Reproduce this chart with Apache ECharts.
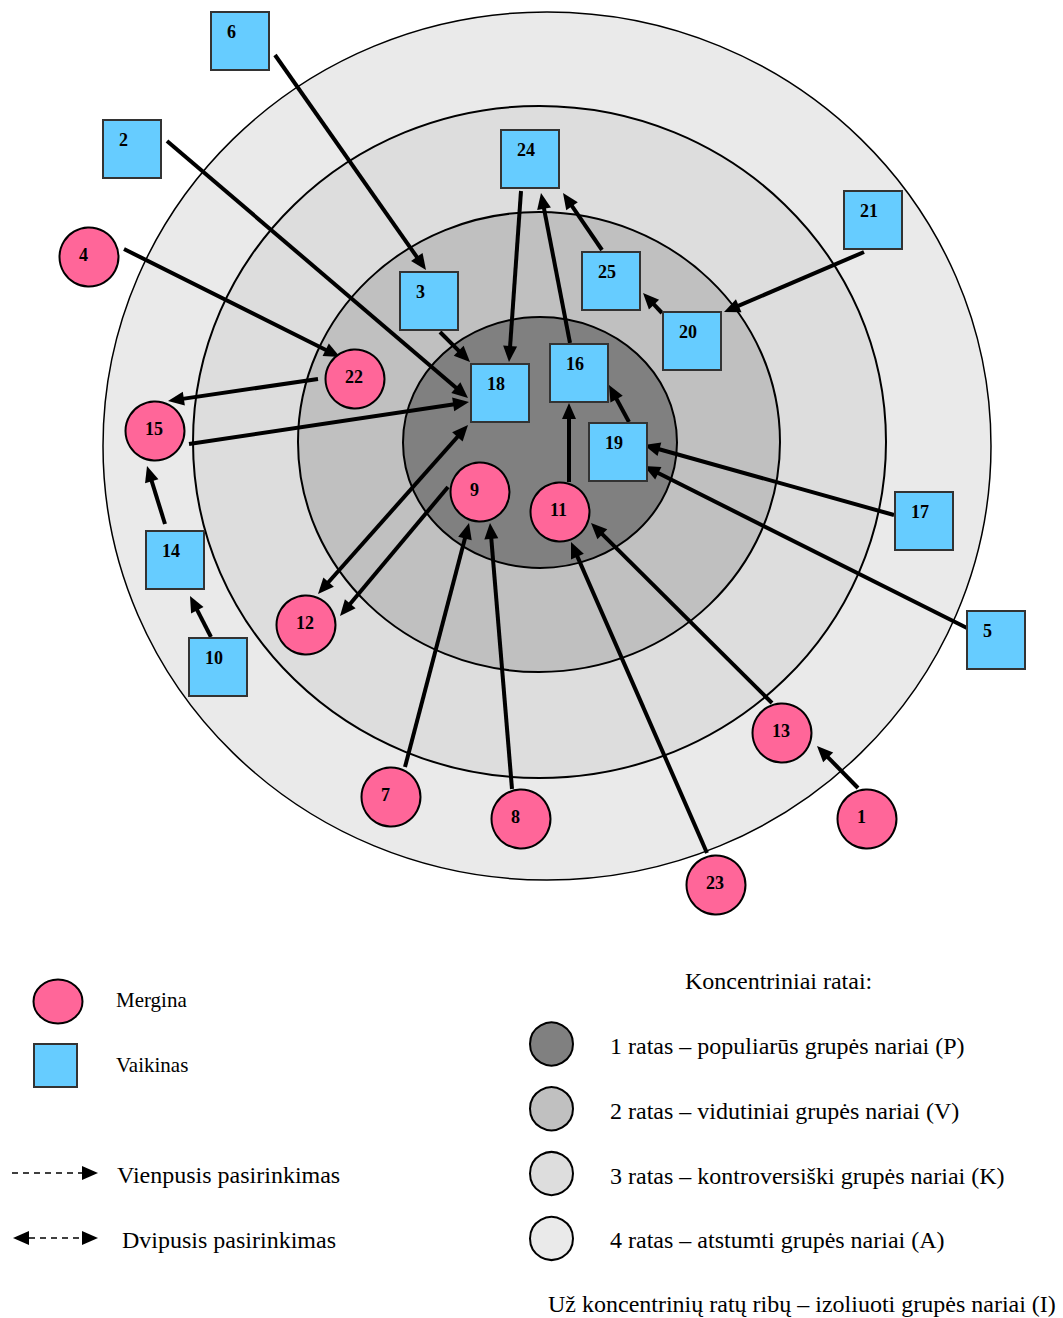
<!DOCTYPE html>
<html>
<head>
<meta charset="utf-8">
<script src="https://cdn.jsdelivr.net/npm/echarts@6/dist/echarts.min.js"></script>
<style>
  html, body { margin: 0; padding: 0; background: #fff; }
  #chart { width: 1063px; height: 1318px; }
</style>
</head>
<body>
<div id="chart"></div>
<script>
// koncentriniai ratai (nuo vidinio iki išorinio), koordinatės paveikslo vienetais
const ringLabels = [
  '1 ratas – populiarūs grupės nariai (P)',
  '2 ratas – vidutiniai grupės nariai (V)',
  '3 ratas – kontroversiški grupės nariai (K)',
  '4 ratas – atstumti grupės nariai (A)'
];
const ringCx = [540, 539, 539.5, 547];
const ringCy = [442.5, 442, 442, 446];
const ringRx = [137, 241, 346.5, 444];
const ringRy = [125.5, 230, 336, 434];

// merginos
const girlIds = [1, 4, 7, 8, 9, 11, 12, 13, 15, 22, 23];
const girlX = [867, 89, 391, 521, 480, 560, 306, 782, 155, 355, 716];
const girlY = [819, 257, 797, 819, 492, 512, 625, 733, 431, 379, 885];

// vaikinai
const boyIds = [2, 3, 5, 6, 10, 14, 16, 17, 18, 19, 20, 21, 24, 25];
const boyX = [132, 429, 996, 240, 218, 175, 579, 924, 500, 618, 692, 873, 530, 611];
const boyY = [149, 301, 640, 41, 667, 560, 373, 521, 393, 452, 341, 220, 159, 281];

// pasirinkimai: pradžia -> smaigalys, both = dvipusis
const edgeNames = ['6-3', '2-18', '4-22', '22-15', '15-18', '3-18', '24-18', '16-24', '25-24', '20-25',
  '21-20', '19-16', '11-16', '17-19', '5-19', '12-18', '9-12', '7-9', '8-9', '23-11', '13-11', '1-13',
  '14-15', '10-14'];
const edgeX1 = [275, 167, 124, 318, 189, 440, 521, 570, 602, 662, 864, 629, 569, 894, 967, 318, 448, 405, 512, 707, 772, 858, 165, 211];
const edgeY1 = [55, 141, 249, 379, 444, 332, 191, 343, 250, 313, 252, 422, 482, 515, 628, 594, 487, 767, 789, 853, 703, 788, 524, 637];
const edgeX2 = [426, 468, 340, 168, 469, 470, 509, 541, 563, 643, 724, 609, 569, 644, 644, 468, 340, 469, 490, 571, 591, 817, 147, 190];
const edgeY2 = [270, 398, 357, 401, 402, 362, 362, 193, 193, 293, 312, 385, 403, 445, 466, 425, 616, 523, 523, 542, 523, 746, 466, 596];
const edgeBoth = [0, 0, 0, 0, 0, 0, 0, 0, 0, 0, 0, 0, 0, 0, 0, 1, 0, 0, 0, 0, 0, 0, 0, 0];

const ringColors = ['#808080', '#c0c0c0', '#dddddd', '#eaeaea'];
const girlColor = '#ff6699';
const boyColor = '#66ccff';
const serif = "'Liberation Serif', 'Times New Roman', serif";
const HEAD_LEN = 16;
const HEAD_W = 7;

const chart = echarts.init(document.getElementById('chart'), null, { renderer: 'svg' });

const ringData = ringCx.map((cx, i) => [cx, ringCy[i], ringRx[i], ringRy[i], i]).reverse();
const edgeData = edgeNames.map((n, i) => [edgeX1[i], edgeY1[i], edgeX2[i], edgeY2[i], edgeBoth[i]]);

function arrowHead(tip, ux, uy) {
  const bx = tip[0] - ux * HEAD_LEN;
  const by = tip[1] - uy * HEAD_LEN;
  return {
    type: 'polygon',
    shape: { points: [tip, [bx - uy * HEAD_W, by + ux * HEAD_W], [bx + uy * HEAD_W, by - ux * HEAD_W]] },
    style: { fill: '#000' }
  };
}

// legenda apačioje
const legend = [];
legend.push({ type: 'ellipse', shape: { cx: 58, cy: 1001.5, rx: 24.5, ry: 22 }, style: { fill: girlColor, stroke: '#000', lineWidth: 2 } });
legend.push({ type: 'rect', shape: { x: 34, y: 1044, width: 43, height: 43 }, style: { fill: boyColor, stroke: '#333', lineWidth: 2 } });
legend.push({ type: 'text', x: 116, y: 1000, style: { text: 'Mergina', font: '21px ' + serif, fill: '#000', verticalAlign: 'middle' } });
legend.push({ type: 'text', x: 116, y: 1065, style: { text: 'Vaikinas', font: '21px ' + serif, fill: '#000', verticalAlign: 'middle' } });
legend.push({ type: 'line', shape: { x1: 12, y1: 1173, x2: 83, y2: 1173 }, style: { stroke: '#000', lineWidth: 1.5, lineDash: [6, 5] } });
legend.push({ type: 'polygon', shape: { points: [[98, 1173], [82, 1166], [82, 1180]] }, style: { fill: '#000' } });
legend.push({ type: 'line', shape: { x1: 29, y1: 1238, x2: 83, y2: 1238 }, style: { stroke: '#000', lineWidth: 1.5, lineDash: [6, 5] } });
legend.push({ type: 'polygon', shape: { points: [[13, 1238], [29, 1231], [29, 1245]] }, style: { fill: '#000' } });
legend.push({ type: 'polygon', shape: { points: [[98, 1238], [82, 1231], [82, 1245]] }, style: { fill: '#000' } });
legend.push({ type: 'text', x: 117, y: 1175, style: { text: 'Vienpusis pasirinkimas', font: '24px ' + serif, fill: '#000', verticalAlign: 'middle' } });
legend.push({ type: 'text', x: 122, y: 1240, style: { text: 'Dvipusis pasirinkimas', font: '24px ' + serif, fill: '#000', verticalAlign: 'middle' } });
legend.push({ type: 'text', x: 685, y: 981, style: { text: 'Koncentriniai ratai:', font: '24px ' + serif, fill: '#000', verticalAlign: 'middle' } });
ringLabels.forEach((lbl, i) => {
  legend.push({ type: 'circle', shape: { cx: 551.5, cy: 1044 + 64.8 * i, r: 21.5 }, style: { fill: ringColors[i], stroke: '#000', lineWidth: 2 } });
  legend.push({ type: 'text', x: 610, y: 1046 + 64.8 * i, style: { text: lbl, font: '24px ' + serif, fill: '#000', verticalAlign: 'middle' } });
});
legend.push({ type: 'text', x: 548, y: 1304, style: { text: 'Už koncentrinių ratų ribų – izoliuoti grupės nariai (I)', font: '24px ' + serif, fill: '#000', verticalAlign: 'middle' } });

const nodeLabel = {
  show: true,
  color: '#000',
  fontFamily: serif,
  fontWeight: 'bold',
  fontSize: 18,
  align: 'left',
  verticalAlign: 'middle',
  formatter: p => String(p.value[2])
};

chart.setOption({
  animation: false,
  grid: { left: 0, right: 0, top: 0, bottom: 0 },
  xAxis: { type: 'value', min: 0, max: 1063, show: false },
  yAxis: { type: 'value', min: 0, max: 1318, inverse: true, show: false },
  graphic: legend,
  series: [
    {
      // ratai
      type: 'custom',
      name: 'Koncentriniai ratai',
      clip: false,
      silent: true,
      z: 1,
      encode: { x: 0, y: 1 },
      data: ringData,
      renderItem(params, api) {
        const c = api.coord([api.value(0), api.value(1)]);
        const s = api.size([api.value(2) * 2, api.value(3) * 2], [api.value(0), api.value(1)]);
        const idx = api.value(4);
        return {
          type: 'ellipse',
          shape: { cx: c[0], cy: c[1], rx: s[0] / 2, ry: s[1] / 2 },
          style: { fill: ringColors[idx], stroke: '#000', lineWidth: idx === 3 ? 1.5 : 2 }
        };
      }
    },
    {
      // pasirinkimų rodyklės
      type: 'custom',
      name: 'Pasirinkimai',
      clip: false,
      silent: true,
      z: 2,
      encode: { x: [0, 2], y: [1, 3] },
      data: edgeData,
      renderItem(params, api) {
        const a = api.coord([api.value(0), api.value(1)]);
        const b = api.coord([api.value(2), api.value(3)]);
        const both = api.value(4) === 1;
        const dx = b[0] - a[0], dy = b[1] - a[1];
        const len = Math.hypot(dx, dy);
        const ux = dx / len, uy = dy / len;
        const trim = HEAD_LEN - 3;
        const start = both ? [a[0] + ux * trim, a[1] + uy * trim] : a;
        const end = [b[0] - ux * trim, b[1] - uy * trim];
        const children = [{
          type: 'line',
          shape: { x1: start[0], y1: start[1], x2: end[0], y2: end[1] },
          style: { stroke: '#000', lineWidth: 4 }
        }, arrowHead(b, ux, uy)];
        if (both) children.push(arrowHead(a, -ux, -uy));
        return { type: 'group', children };
      }
    },
    {
      type: 'scatter',
      name: 'Mergina',
      z: 3,
      symbol: 'circle',
      symbolSize: 59,
      itemStyle: { color: girlColor, borderColor: '#000', borderWidth: 2, opacity: 1 },
      label: Object.assign({ position: [20.5, 28] }, nodeLabel),
      data: girlIds.map((id, i) => [girlX[i], girlY[i], id])
    },
    {
      type: 'scatter',
      name: 'Vaikinas',
      z: 3,
      symbol: 'rect',
      symbolSize: 58,
      itemStyle: { color: boyColor, borderColor: '#333', borderWidth: 2, opacity: 1 },
      label: Object.assign({ position: [17, 21] }, nodeLabel),
      data: boyIds.map((id, i) => [boyX[i], boyY[i], id])
    }
  ]
});
</script>
</body>
</html>
